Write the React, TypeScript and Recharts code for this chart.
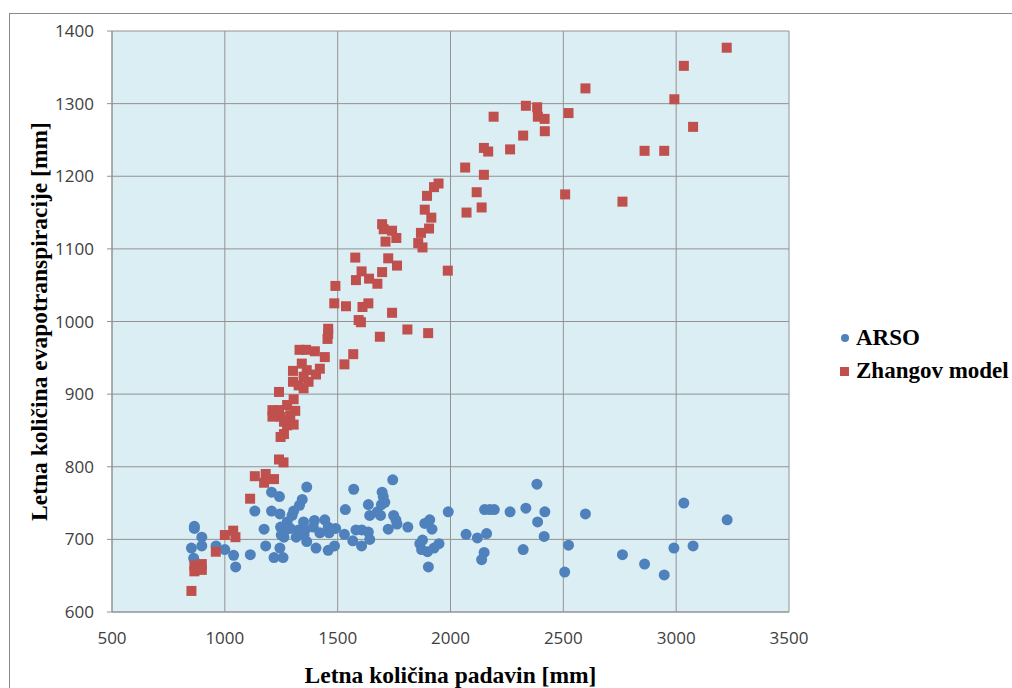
import React from "react";
import {
  ScatterChart,
  Scatter,
  XAxis,
  YAxis,
  CartesianGrid,
  Legend,
} from "recharts";

// ARSO measurements: [annual precipitation, annual evapotranspiration]
const arsoX = [
  865, 865, 898, 898, 852, 862, 961, 1000, 1039, 1048, 1113, 1133, 1174, 1181,
  1207, 1242, 1207, 1244, 1363, 1343, 1331, 1305, 1298, 1276, 1247, 1250, 1269,
  1290, 1262, 1316, 1327, 1349, 1356, 1363, 1351, 1397, 1392, 1421, 1443, 1458,
  1462, 1491, 1534, 1530, 1571, 1567, 1404, 1458, 1486, 1244, 1218, 1258, 1581,
  1607, 1636, 1642, 1606, 1636, 1642, 1676, 1690, 1697, 1702, 1709, 1694, 1744,
  1748, 1758, 1763, 1724, 1811, 1864, 1876, 1872, 1898, 1927, 1949, 1902, 1886,
  1908, 1918, 1990, 2069, 2119, 2160, 2149, 2138, 2151, 2174, 2194, 2264, 2334,
  2383, 2418, 2386, 2415, 2322, 2523, 2506, 2598, 2762, 2860, 2947, 2990, 3034,
  3075, 3226,
];
const arsoY = [
  715, 718, 703, 691, 688, 674, 691, 686, 678, 662, 679, 739, 714, 691, 765, 759,
  739, 735, 772, 755, 747, 739, 733, 724, 717, 706, 713, 715, 703, 703, 713, 724,
  713, 697, 706, 726, 717, 709, 727, 717, 709, 715, 741, 707, 769, 698, 688, 685,
  691, 688, 675, 675, 713, 713, 710, 700, 691, 748, 733, 738, 733, 765, 759, 751,
  748, 782, 733, 727, 721, 714, 717, 694, 699, 686, 683, 688, 694, 662, 722, 727,
  714, 738, 707, 702, 708, 682, 672, 741, 741, 741, 738, 743, 776, 738, 724, 704,
  686, 692, 655, 735, 679, 666, 651, 688, 750, 691, 727,
];

// Zhang model estimates
const zhangX = [
  852, 865, 898, 865, 898, 960, 1000, 1037, 1047, 1112, 1133, 1181, 1174, 1218,
  1240, 1260, 1247, 1262, 1211, 1211, 1240, 1247, 1276, 1305, 1312, 1262, 1276,
  1305, 1290, 1240, 1302, 1327, 1349, 1371, 1302, 1341, 1363, 1404, 1421, 1349,
  1331, 1360, 1399, 1443, 1458, 1458, 1455, 1530, 1569, 1687, 1485, 1537, 1610,
  1636, 1593, 1603, 1741, 1490, 1578, 1581, 1606, 1639, 1676, 1697, 1724, 1763,
  1697, 1704, 1741, 1760, 1712, 1857, 1876, 1869, 1905, 1915, 1886, 1896, 1927,
  1947, 1988, 1809, 1901, 2065, 2071, 2116, 2138, 2148, 2148, 2167, 2191, 2264,
  2322, 2334, 2384, 2387, 2417, 2418, 2508, 2523, 2598, 2762, 2860, 2947, 2992,
  3034, 3075, 3224,
];
const zhangY = [
  629, 664, 666, 656, 658, 683, 706, 712, 703, 756, 787, 790, 778, 783, 810, 806,
  841, 845, 878, 869, 878, 869, 885, 893, 877, 862, 857, 858, 871, 903, 917, 912,
  908, 917, 932, 942, 933, 927, 935, 924, 961, 961, 959, 951, 990, 983, 976, 941,
  955, 979, 1025, 1021, 1020, 1025, 1002, 999, 1012, 1049, 1088, 1057, 1069,
  1059, 1052, 1068, 1087, 1077, 1134, 1127, 1125, 1115, 1110, 1108, 1102, 1122,
  1128, 1143, 1154, 1173, 1185, 1190, 1070, 989, 984, 1212, 1150, 1178, 1157,
  1202, 1239, 1234, 1282, 1237, 1256, 1297, 1295, 1282, 1279, 1262, 1175, 1287,
  1321, 1165, 1235, 1235, 1306, 1352, 1268, 1377,
];

const xTicks = [500, 1000, 1500, 2000, 2500, 3000, 3500];
const yTicks = [600, 700, 800, 900, 1000, 1100, 1200, 1300, 1400];

const BLUE = "#4F81BD";
const RED = "#C0504D";

const arsoData = arsoX.map((x, i) => ({ x, y: arsoY[i] }));
const zhangData = zhangX.map((x, i) => ({ x, y: zhangY[i] }));

const tickStyle = { fill: "#404040", fontSize: 17, fontFamily: "'Open Sans', sans-serif" };
const titleStyle = {
  fill: "#000",
  fontSize: 23.5,
  fontWeight: 700,
  fontFamily: "'Liberation Serif', 'Times New Roman', serif",
};

function Dot(props: any) {
  const { cx, cy } = props;
  return <circle cx={cx} cy={cy} r={5.5} fill={BLUE} />;
}

function Square(props: any) {
  const { cx, cy } = props;
  return <rect x={cx - 5} y={cy - 5} width={10} height={10} fill={RED} />;
}

function LegendBox() {
  const text = { fontFamily: titleStyle.fontFamily, fontWeight: 700, fontSize: 23, color: "#000", lineHeight: "26px" };
  return (
    <div style={{ display: "flex", flexDirection: "column", gap: 7 }}>
      <div style={{ display: "flex", alignItems: "center", gap: 7 }}>
        <span style={{ display: "inline-block", width: 8, height: 8, borderRadius: 4, background: BLUE, marginLeft: 7 }} />
        <span style={text}>ARSO</span>
      </div>
      <div style={{ display: "flex", alignItems: "center", gap: 7 }}>
        <span style={{ display: "inline-block", width: 9, height: 9, background: RED, marginLeft: 6 }} />
        <span style={text}>Zhangov model</span>
      </div>
    </div>
  );
}

export default function App() {
  return (
    <div style={{ position: "absolute", left: 0, top: 0, width: 1012, height: 688, background: "#fff", overflow: "hidden" }}>
      <div
        style={{
          position: "absolute",
          left: 9,
          top: 13,
          right: 0,
          bottom: 0,
          borderLeft: "1px solid #8a8a8a",
          borderTop: "1px solid #8a8a8a",
        }}
      />
      <ScatterChart
        width={1012}
        height={688}
        margin={{ top: 31, right: 45, bottom: 36, left: 40 }}
        style={{ position: "absolute", left: 0, top: 0 }}
      >
        <CartesianGrid fill="#DBEEF3" stroke="#929292" strokeWidth={1} />
        <XAxis
          type="number"
          dataKey="x"
          domain={[500, 3500]}
          ticks={xTicks}
          interval={0}
          height={40}
          tickLine={false}
          tickSize={0}
          tickMargin={20}
          axisLine={{ stroke: "#929292" }}
          tick={tickStyle}
          label={{ value: "Letna količina padavin [mm]", position: "bottom", offset: 14, style: titleStyle }}
        />
        <YAxis
          type="number"
          dataKey="y"
          domain={[600, 1400]}
          ticks={yTicks}
          interval={0}
          width={72}
          tickSize={5}
          tickMargin={13}
          tickLine={{ stroke: "#929292" }}
          axisLine={{ stroke: "#929292" }}
          tick={tickStyle}
          label={{
            value: "Letna količina evapotranspiracije [mm]",
            angle: -90,
            position: "insideLeft",
            offset: -1,
            style: { ...titleStyle, textAnchor: "middle" },
          }}
        />
        <Legend
          layout="vertical"
          align="right"
          verticalAlign="top"
          content={<LegendBox />}
          wrapperStyle={{ position: "absolute", left: 834, top: 325, width: 178 }}
        />
        <Scatter name="ARSO" data={arsoData} fill={BLUE} shape={<Dot />} isAnimationActive={false} />
        <Scatter name="Zhangov model" data={zhangData} fill={RED} shape={<Square />} isAnimationActive={false} />
      </ScatterChart>
    </div>
  );
}
